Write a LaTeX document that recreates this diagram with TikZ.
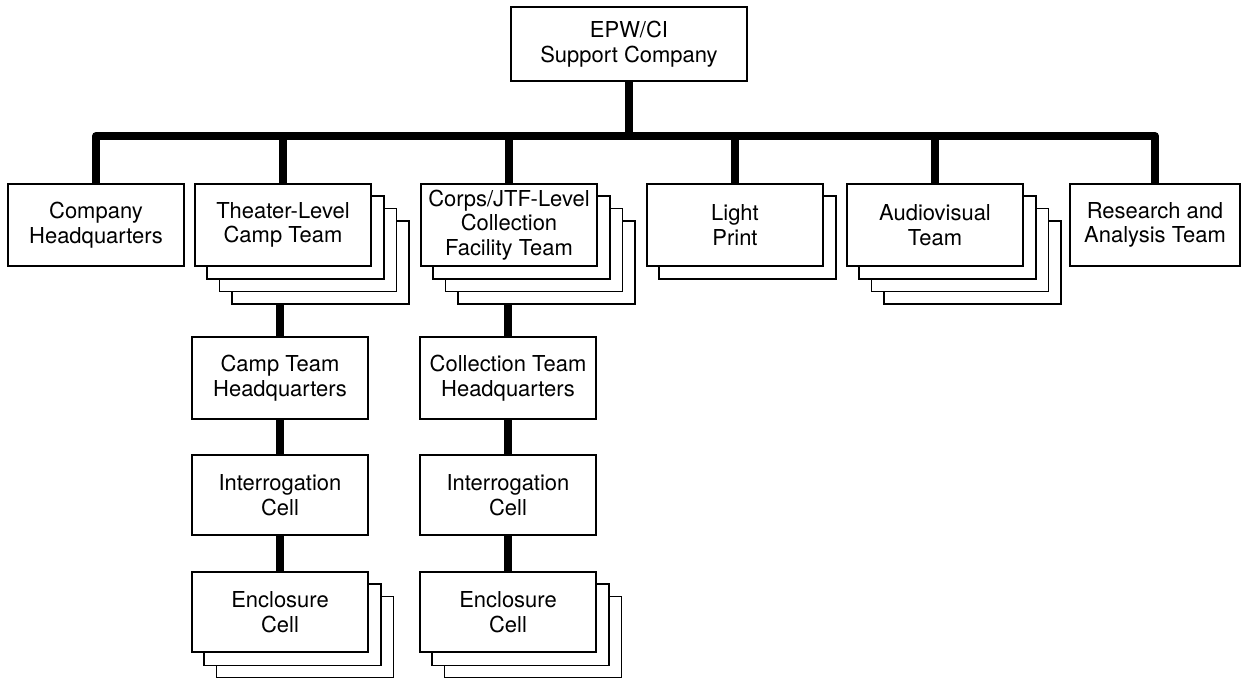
\documentclass[tikz,border=0pt]{standalone}
\usepackage{fontspec}
\setmainfont{TeX Gyre Heros}
\usetikzlibrary{calc}
\usetikzlibrary{backgrounds}

\begin{document}
\begin{tikzpicture}[x=0.02cm, y=-0.02cm,
		unit/.style={draw, line width=0.8pt, fill=white, align=center, inner sep=0pt,
			minimum width=3.52cm, minimum height=1.64cm, font=\fontsize{12.5}{14}\selectfont},
		pile/.style={draw, line width=0.8pt, fill=white},
		link/.style={line width=4.6pt, line join=round}]
	\useasboundingbox (0, 0) rectangle (1245, 677);

	% top of the chart
	\node[unit, minimum width=4.72cm, minimum height=1.48cm] (top) at (629, 44) {EPW/CI\\Support Company};
	\coordinate (bus) at (629, 136);

	% first row
	\node[unit] (comphq) at (96, 225) {Company\\Headquarters};
	\node[unit] (theater) at (283, 225) {Theater-Level\\Camp Team};
	\node[unit] (corps) at (509, 225) {Corps/JTF-Level\\Collection\\Facility Team};
	\node[unit] (light) at (735, 225) {Light\\Print};
	\node[unit] (audio) at (935, 225) {Audiovisual\\Team};
	\node[unit, minimum width=3.4cm] (research) at (1155, 225) {Research and\\Analysis Team};

	% camp team column
	\node[unit] (camphq) at (280, 378) {Camp Team\\Headquarters};
	\node[unit, minimum height=1.6cm] (campint) at (280, 495) {Interrogation\\Cell};
	\node[unit, minimum height=1.6cm] (campenc) at (280, 612) {Enclosure\\Cell};

	% collection team column
	\node[unit] (collhq) at (508, 378) {Collection Team\\Headquarters};
	\node[unit, minimum height=1.6cm] (collint) at (508, 495) {Interrogation\\Cell};
	\node[unit, minimum height=1.6cm] (collenc) at (508, 612) {Enclosure\\Cell};

	\begin{scope}[on background layer]
		\draw[link] (top.south) -- (bus);
		\draw[link] (comphq.north) -- (comphq.north |- bus) -- (research.north |- bus) -- (research.north);
		\foreach \n in {theater, corps, light, audio}
			\draw[link] (\n.north) -- (\n.north |- bus);
		\draw[link] (camphq.north) -- (camphq.north |- theater.south);
		\draw[link] (camphq.south) -- (campint.north);
		\draw[link] (campint.south) -- (campenc.north);
		\draw[link] (collhq.north) -- (collhq.north |- corps.south);
		\draw[link] (collhq.south) -- (collint.north);
		\draw[link] (collint.south) -- (collenc.north);

		% stacked copies behind the boxes
		\foreach \n/\c in {theater/3, corps/3, light/1, audio/3, campenc/2, collenc/2}
			\foreach \k in {\c,...,1}
				\draw[pile] ($(\n.north west)+(\k*12.5, \k*12.5)$) rectangle ($(\n.south east)+(\k*12.5, \k*12.5)$);
	\end{scope}
\end{tikzpicture}
\end{document}
